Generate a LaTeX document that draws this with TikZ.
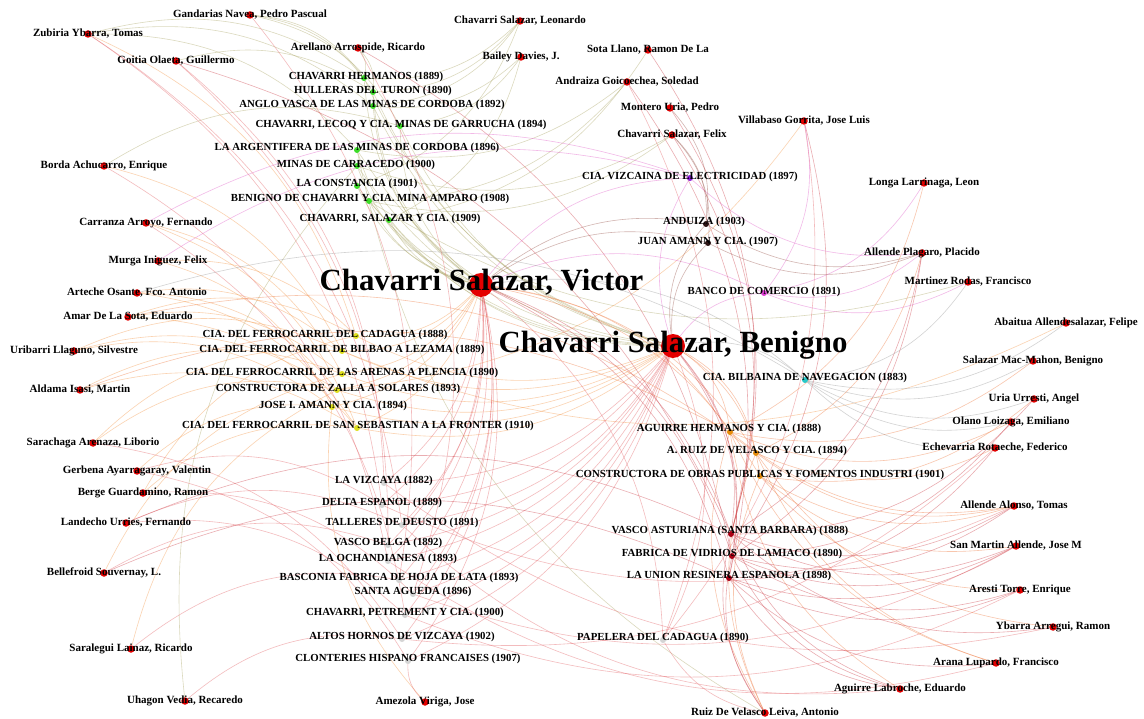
\documentclass[tikz,border=0pt]{standalone}
\usepackage{fontspec}
\setmainfont{Liberation Serif}
\pgfdeclarelayer{bg}
\pgfdeclarelayer{edges}
\pgfsetlayers{bg,edges,main}
\definecolor{cP}{RGB}{228,0,0}
\definecolor{cG}{RGB}{60,220,40}
\definecolor{cY}{RGB}{222,222,30}
\definecolor{cK}{RGB}{212,212,212}
\definecolor{cO}{RGB}{230,140,10}
\definecolor{cD}{RGB}{170,0,20}
\definecolor{cV}{RGB}{140,30,220}
\definecolor{cM}{RGB}{220,60,210}
\definecolor{cB}{RGB}{45,20,20}
\definecolor{cC}{RGB}{40,200,200}
\definecolor{eGc}{RGB}{170,165,100}
\definecolor{eYc}{RGB}{245,150,70}
\definecolor{eKc}{RGB}{228,95,100}
\definecolor{eOc}{RGB}{240,120,60}
\definecolor{eDc}{RGB}{205,60,70}
\definecolor{eVc}{RGB}{225,90,200}
\definecolor{eBc}{RGB}{150,80,70}
\definecolor{eCc}{RGB}{150,150,150}
\tikzset{
  edge/.style={line width=0.6pt, opacity=0.42, bend left=24},
  eG/.style={edge, draw=eGc},
  eY/.style={edge, draw=eYc},
  eK/.style={edge, draw=eKc},
  eO/.style={edge, draw=eOc},
  eD/.style={edge, draw=eDc},
  eV/.style={edge, draw=eVc},
  eB/.style={edge, draw=eBc},
  eC/.style={edge, draw=eCc},
  dot/.style={circle, inner sep=0pt, minimum size=6pt},
  pdot/.style={dot, fill=cP, minimum size=7.5pt},
  bigdot/.style={dot, fill=cP, minimum size=24pt},
  nm/.style={font=\fontsize{11}{12}\selectfont\bfseries, inner sep=0pt},
  co/.style={font=\fontsize{10.8}{12}\selectfont\bfseries, inner sep=0pt},
  big/.style={font=\fontsize{30.8}{32}\selectfont\bfseries, inner sep=0pt},
}
\begin{document}
\begin{tikzpicture}[x=1pt,y=-1pt]
\useasboundingbox (0,0) rectangle (1144,719);
\begin{pgfonlayer}{bg}
\fill[white] (0,0) rectangle (1144,719);
\end{pgfonlayer}
% ---------- person dots
\node[pdot] (p1) at (250,15) {};
\node[pdot] (p2) at (88,34) {};
\node[pdot] (p3) at (176,61) {};
\node[pdot] (p4) at (358,48) {};
\node[pdot] (p5) at (520,21) {};
\node[pdot] (p6) at (521,57) {};
\node[pdot] (p7) at (648,50) {};
\node[pdot] (p8) at (627,82) {};
\node[pdot] (p9) at (670,108) {};
\node[pdot] (p10) at (672,135) {};
\node[pdot] (p11) at (804,121) {};
\node[pdot] (p12) at (924,183) {};
\node[pdot] (p13) at (104,166) {};
\node[pdot] (p14) at (146,223) {};
\node[pdot] (p15) at (158,261) {};
\node[pdot] (p16) at (137,293) {};
\node[pdot] (p17) at (128,317) {};
\node[pdot] (p18) at (74,351) {};
\node[pdot] (p19) at (80,390) {};
\node[pdot] (p20) at (93,443) {};
\node[pdot] (p21) at (137,471) {};
\node[pdot] (p22) at (143,493) {};
\node[pdot] (p23) at (126,523) {};
\node[pdot] (p24) at (104,573) {};
\node[pdot] (p25) at (131,649) {};
\node[pdot] (p26) at (185,701) {};
\node[pdot] (p27) at (425,702) {};
\node[pdot] (p28) at (765,713) {};
\node[pdot] (p29) at (900,689) {};
\node[pdot] (p30) at (996,663) {};
\node[pdot] (p31) at (1053,627) {};
\node[pdot] (p32) at (1020,590) {};
\node[pdot] (p33) at (1016,546) {};
\node[pdot] (p34) at (1014,506) {};
\node[pdot] (p35) at (995,448) {};
\node[pdot] (p36) at (1011,422) {};
\node[pdot] (p37) at (1034,399) {};
\node[pdot] (p38) at (1033,361) {};
\node[pdot] (p39) at (1066,323) {};
\node[pdot] (p40) at (968,282) {};
\node[pdot] (p41) at (922,253) {};
\node[bigdot] (V) at (481,285) {};
\node[bigdot] (B) at (673,346) {};
% ---------- company dots
\node[dot, fill=cG] (g1) at (364,78) {};
\node[dot, fill=cG] (g2) at (373,92) {};
\node[dot, fill=cG] (g3) at (373,106) {};
\node[dot, fill=cG] (g4) at (400,126) {};
\node[dot, fill=cG] (g5) at (357,150) {};
\node[dot, fill=cG] (g6) at (357,166) {};
\node[dot, fill=cG] (g7) at (357,186) {};
\node[dot, fill=cG] (g8) at (369,201) {};
\node[dot, fill=cG] (g9) at (389,220) {};
\node[dot, fill=cY] (y1) at (356,336) {};
\node[dot, fill=cY] (y2) at (342,351) {};
\node[dot, fill=cY] (y3) at (342,374) {};
\node[dot, fill=cY] (y4) at (337,390) {};
\node[dot, fill=cY] (y5) at (332,407) {};
\node[dot, fill=cY] (y6) at (357,428) {};
\node[dot, fill=cK] (k1) at (384,483) {};
\node[dot, fill=cK] (k2) at (382,505) {};
\node[dot, fill=cK] (k3) at (402,525) {};
\node[dot, fill=cK] (k4) at (388,545) {};
\node[dot, fill=cK] (k5) at (388,561) {};
\node[dot, fill=cK] (k6) at (399,580) {};
\node[dot, fill=cK] (k7) at (413,594) {};
\node[dot, fill=cK] (k8) at (405,615) {};
\node[dot, fill=cK] (k9) at (402,639) {};
\node[dot, fill=cK] (k10) at (408,661) {};
\node[dot, fill=cK] (k11) at (663,640) {};
\node[dot, fill=cO] (o1) at (730,432) {};
\node[dot, fill=cO] (o2) at (756,453) {};
\node[dot, fill=cO] (o3) at (760,476) {};
\node[dot, fill=cD] (d1) at (731,534) {};
\node[dot, fill=cD] (d2) at (732,556) {};
\node[dot, fill=cD] (d3) at (729,578) {};
\node[dot, fill=cV] (v1) at (690,178) {};
\node[dot, fill=cM] (v2) at (764,293) {};
\node[dot, fill=cB] (b1) at (706,224) {};
\node[dot, fill=cB] (b2) at (708,243) {};
\node[dot, fill=cC] (c1) at (805,380) {};
% ---------- edges
\begin{pgfonlayer}{edges}
\foreach \a/\b in {V/g1,V/g2,V/g3,V/g4,V/g5,V/g6,V/g7,V/g8,V/g9,B/g1,B/g2,B/g3,B/g4,B/g5,B/g6,B/g7,B/g8,B/g9,
  p1/g1,p1/g4,p2/g1,p2/g3,p3/g2,p4/g1,p4/g2,p5/g1,p5/g2,p5/g3,p5/g7,p6/g3,p6/g4,p6/g9,p7/g9,p8/g5,p8/g8,
  p10/g6,p10/g8,p13/g4,p26/g6,p28/g5,p40/g8,p1/g2,p2/g5}
  \draw[eG] (\a) to (\b);
\foreach \a/\b in {V/y1,V/y2,V/y3,V/y4,V/y5,V/y6,B/y1,B/y2,B/y3,B/y4,B/y5,B/y6,
  p2/y1,p11/y4,p13/y2,p14/y3,p15/y1,p15/y5,p16/y2,p16/y6,p17/y1,p17/y3,p17/y6,p18/y2,p18/y4,p18/y5,
  p19/y3,p19/y6,p20/y4,p21/y5,p22/y1,p22/y6,p24/y3,p25/y4,p27/y5,p39/y2,p14/y6,p16/y4,p20/y2}
  \draw[eY] (\a) to (\b);
\foreach \a/\b in {V/k1,V/k2,V/k3,V/k4,V/k5,V/k6,V/k7,V/k8,V/k9,V/k10,V/k11,
  B/k1,B/k2,B/k3,B/k4,B/k5,B/k6,B/k7,B/k8,B/k9,B/k10,B/k11,
  p1/k6,p2/k2,p2/k3,p3/k1,p3/k4,p4/k7,p8/k11,p11/k11,p13/k5,p14/k8,p20/k9,p21/k2,p21/k10,p22/k7,
  p23/k3,p23/k8,p24/k4,p25/k6,p26/k9,p27/k10,p28/k11,p30/k5,p31/k1,p32/k8,p34/k2,p29/k3,p33/k7,p35/k9}
  \draw[eK] (\a) to (\b);
\foreach \a/\b in {V/o1,V/o2,V/o3,B/o1,B/o2,B/o3,p12/o1,p17/o2,p19/o1,p28/o1,p28/o2,p28/o3,p29/o1,
  p30/o1,p30/o2,p31/o2,p32/o3,p33/o3,p34/o1,p34/o2,p34/o3,p35/o2,p36/o1,p37/o3,p38/o1,p41/o2}
  \draw[eO] (\a) to (\b);
\foreach \a/\b in {V/d1,V/d2,V/d3,B/d1,B/d2,B/d3,p3/d1,p4/d2,p7/d1,p8/d3,p9/d1,p10/d1,p11/d2,p23/d1,
  p24/d3,p28/d1,p28/d2,p29/d1,p29/d2,p29/d3,p30/d3,p31/d1,p32/d2,p32/d3,p33/d1,p33/d2,p33/d3,
  p34/d1,p34/d2,p35/d3,p36/d2,p37/d1,p41/d1,p41/d2}
  \draw[eD] (\a) to (\b);
\foreach \a/\b in {V/v1,V/v2,B/v1,B/v2,p11/v2,p12/v2,p14/v1,p15/v1,p40/v2,p41/v1,p41/v2}
  \draw[eV] (\a) to (\b);
\foreach \a/\b in {V/b1,V/b2,B/b1,B/b2,p9/b1,p10/b1,p10/b2,p41/b1,p41/b2}
  \draw[eB] (\a) to (\b);
\foreach \a/\b in {V/c1,B/c1,p16/c1,p35/c1,p36/c1,p37/c1,p38/c1,p39/c1,p40/c1}
  \draw[eC] (\a) to (\b);
\end{pgfonlayer}
% ---------- person labels
\node[nm] (p1l) at (p1) {Gandarias Navea, Pedro Pascual};
\node[nm] (p2l) at (p2) {Zubiria Ybarra, Tomas};
\node[nm] (p3l) at (p3) {Goitia Olaeta, Guillermo};
\node[nm] (p4l) at (p4) {Arellano Arrospide, Ricardo};
\node[nm] (p5l) at (p5) {Chavarri Salazar, Leonardo};
\node[nm] (p6l) at (p6) {Bailey Davies, J.};
\node[nm] (p7l) at (p7) {Sota Llano, Ramon De La};
\node[nm] (p8l) at (p8) {Andraiza Goicoechea, Soledad};
\node[nm] (p9l) at (p9) {Montero Uria, Pedro};
\node[nm] (p10l) at (p10) {Chavarri Salazar, Felix};
\node[nm] (p11l) at (p11) {Villabaso Gorrita, Jose Luis};
\node[nm] (p12l) at (p12) {Longa Larrinaga, Leon};
\node[nm] (p13l) at (p13) {Borda Achucarro, Enrique};
\node[nm] (p14l) at (p14) {Carranza Arroyo, Fernando};
\node[nm] (p15l) at (p15) {Murga Iniguez, Felix};
\node[nm] (p16l) at (p16) {Arteche Osante, Fco. Antonio};
\node[nm] (p17l) at (p17) {Amar De La Sota, Eduardo};
\node[nm] (p18l) at (p18) {Uribarri Llaguno, Silvestre};
\node[nm] (p19l) at (p19) {Aldama Isasi, Martin};
\node[nm] (p20l) at (p20) {Sarachaga Arenaza, Liborio};
\node[nm] (p21l) at (p21) {Gerbena Ayarragaray, Valentin};
\node[nm] (p22l) at (p22) {Berge Guardamino, Ramon};
\node[nm] (p23l) at (p23) {Landecho Urries, Fernando};
\node[nm] (p24l) at (p24) {Bellefroid Souvernay, L.};
\node[nm] (p25l) at (p25) {Saralegui Lainaz, Ricardo};
\node[nm] (p26l) at (p26) {Uhagon Vedia, Recaredo};
\node[nm] (p27l) at (p27) {Amezola Viriga, Jose};
\node[nm] (p28l) at (p28) {Ruiz De Velasco Leiva, Antonio};
\node[nm] (p29l) at (p29) {Aguirre Labroche, Eduardo};
\node[nm] (p30l) at (p30) {Arana Lupardo, Francisco};
\node[nm] (p31l) at (p31) {Ybarra Arregui, Ramon};
\node[nm] (p32l) at (p32) {Aresti Torre, Enrique};
\node[nm] (p33l) at (p33) {San Martin Allende, Jose M};
\node[nm] (p34l) at (p34) {Allende Alonso, Tomas};
\node[nm] (p35l) at (p35) {Echevarria Rotaeche, Federico};
\node[nm] (p36l) at (p36) {Olano Loizaga, Emiliano};
\node[nm] (p37l) at (p37) {Uria Urresti, Angel};
\node[nm] (p38l) at (p38) {Salazar Mac-Mahon, Benigno};
\node[nm] (p39l) at (p39) {Abaitua Allendesalazar, Felipe};
\node[nm] (p40l) at (p40) {Martinez Rodas, Francisco};
\node[nm] (p41l) at (p41) {Allende Plagaro, Placido};
\node[big] (Vl) at (481.5,282) {Chavarri Salazar, Victor};
\node[big] (Bl) at (673,345) {Chavarri Salazar, Benigno};
% ---------- company labels
\node[co] (g1l) at (366,77) {CHAVARRI HERMANOS (1889)};
\node[co] (g2l) at (373,91) {HULLERAS DEL TURON (1890)};
\node[co] (g3l) at (372,105) {ANGLO VASCA DE LAS MINAS DE CORDOBA (1892)};
\node[co] (g4l) at (401,125) {CHAVARRI, LECOQ Y CIA. MINAS DE GARRUCHA (1894)};
\node[co] (g5l) at (357,148) {LA ARGENTIFERA DE LAS MINAS DE CORDOBA (1896)};
\node[co] (g6l) at (356,165) {MINAS DE CARRACEDO (1900)};
\node[co] (g7l) at (357,184) {LA CONSTANCIA (1901)};
\node[co] (g8l) at (370,199) {BENIGNO DE CHAVARRI Y CIA. MINA AMPARO (1908)};
\node[co] (g9l) at (390,219) {CHAVARRI, SALAZAR Y CIA. (1909)};
\node[co] (y1l) at (325,335) {CIA. DEL FERROCARRIL DEL CADAGUA (1888)};
\node[co] (y2l) at (342,350) {CIA. DEL FERROCARRIL DE BILBAO A LEZAMA (1889)};
\node[co] (y3l) at (342,373) {CIA. DEL FERROCARRIL DE LAS ARENAS A PLENCIA (1890)};
\node[co] (y4l) at (338,389) {CONSTRUCTORA DE ZALLA A SOLARES (1893)};
\node[co] (y5l) at (333,406) {JOSE I. AMANN Y CIA. (1894)};
\node[co] (y6l) at (358,426) {CIA. DEL FERROCARRIL DE SAN SEBASTIAN A LA FRONTER (1910)};
\node[co] (k1l) at (384,481) {LA VIZCAYA (1882)};
\node[co] (k2l) at (382,503) {DELTA ESPANOL (1889)};
\node[co] (k3l) at (402,523) {TALLERES DE DEUSTO (1891)};
\node[co] (k4l) at (388,543) {VASCO BELGA (1892)};
\node[co] (k5l) at (388,559) {LA OCHANDIANESA (1893)};
\node[co] (k6l) at (399,578) {BASCONIA FABRICA DE HOJA DE LATA (1893)};
\node[co] (k7l) at (413,592) {SANTA AGUEDA (1896)};
\node[co] (k8l) at (405,613) {CHAVARRI, PETREMENT Y CIA. (1900)};
\node[co] (k9l) at (402,637) {ALTOS HORNOS DE VIZCAYA (1902)};
\node[co] (k10l) at (408,659) {CLONTERIES HISPANO FRANCAISES (1907)};
\node[co] (k11l) at (663,638) {PAPELERA DEL CADAGUA (1890)};
\node[co] (o1l) at (729,429) {AGUIRRE HERMANOS Y CIA. (1888)};
\node[co] (o2l) at (757,451) {A. RUIZ DE VELASCO Y CIA. (1894)};
\node[co] (o3l) at (760,475) {CONSTRUCTORA DE OBRAS PUBLICAS Y FOMENTOS INDUSTRI (1901)};
\node[co] (d1l) at (730,531) {VASCO ASTURIANA (SANTA BARBARA) (1888)};
\node[co] (d2l) at (732,554) {FABRICA DE VIDRIOS DE LAMIACO (1890)};
\node[co] (d3l) at (729,576) {LA UNION RESINERA ESPANOLA (1898)};
\node[co] (v1l) at (690,177) {CIA. VIZCAINA DE ELECTRICIDAD (1897)};
\node[co] (v2l) at (764,292) {BANCO DE COMERCIO (1891)};
\node[co] (b1l) at (704,222) {ANDUIZA (1903)};
\node[co] (b2l) at (708,242) {JUAN AMANN Y CIA. (1907)};
\node[co] (c1l) at (805,378) {CIA. BILBAINA DE NAVEGACION (1883)};
\end{tikzpicture}
\end{document}
